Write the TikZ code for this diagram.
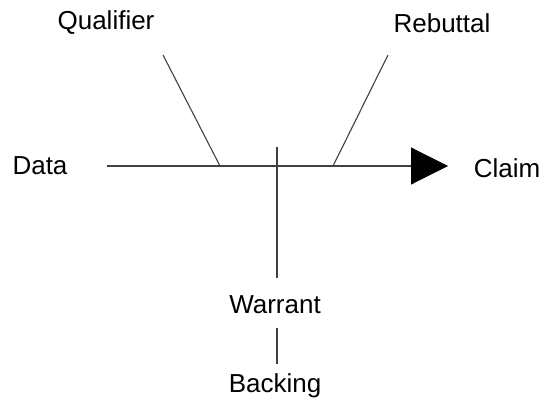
\documentclass[tikz,border=0pt]{standalone}
\usepackage{fontspec}
\setmainfont{Liberation Sans}
\usetikzlibrary{arrows.meta}
\begin{document}
\begin{tikzpicture}[x=1pt,y=-1pt,
  lbl/.style={inner sep=0pt,font=\fontsize{26}{31}\selectfont},
  ln/.style={draw=black!75,line width=1.1pt}]
\useasboundingbox (0,0) rectangle (551,403);
\node[lbl] (qual) at (106,23) {Qualifier};
\node[lbl] (reb) at (442,23) {Rebuttal};
\node[lbl] (data) at (40,166) {Data};
\node[lbl] (claim) at (507,168) {Claim};
\node[lbl] (warrant) at (275,305) {Warrant};
\node[lbl] (backing) at (275,386) {Backing};
\coordinate (ds) at (107,166);
\coordinate (tip) at (448,166);
\coordinate (q1) at (163,55);
\coordinate (q2) at (220,166);
\coordinate (r1) at (388,55);
\coordinate (r2) at (333,166);
\coordinate (w1) at (277,147);
\coordinate (w2) at (277,278);
\coordinate (b1) at (277,328);
\coordinate (b2) at (277,364);
\draw[ln,-{Triangle[length=37pt,width=37pt,fill=black,color=black]}] (ds) -- (tip);
\draw[ln] (q1) -- (q2);
\draw[ln] (r1) -- (r2);
\draw[ln] (w1) -- (w2);
\draw[ln] (b1) -- (b2);
\end{tikzpicture}
\end{document}
